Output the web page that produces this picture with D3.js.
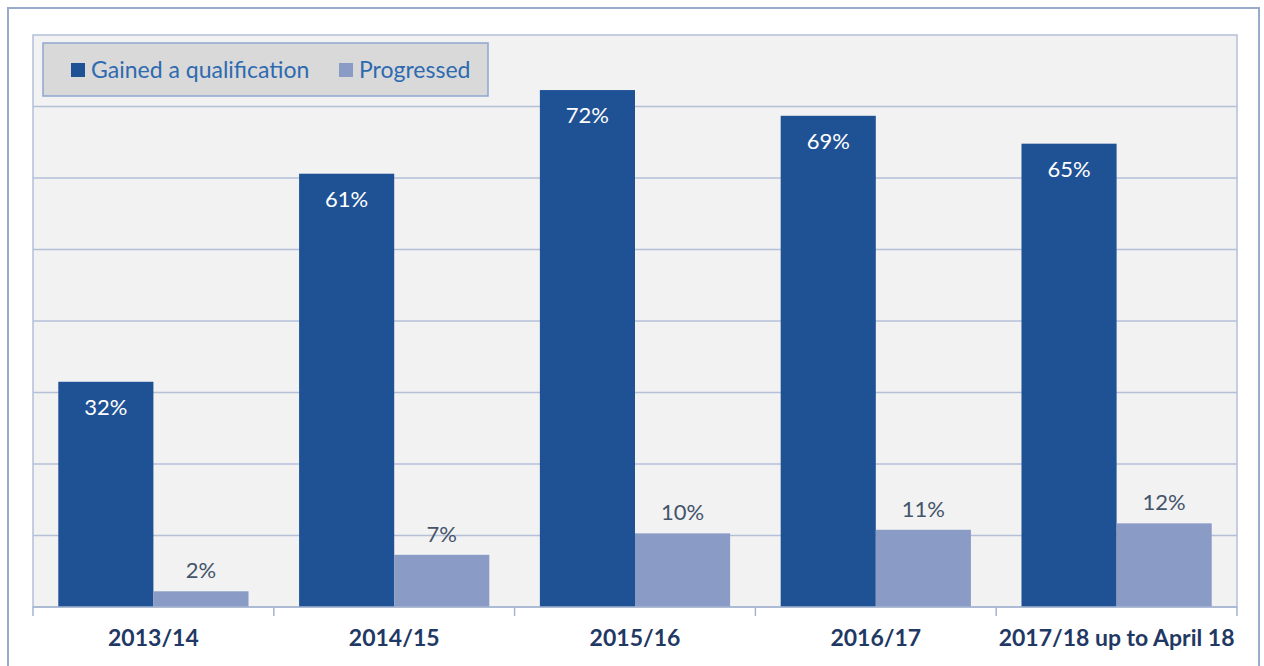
<!DOCTYPE html>
<html>
<head>
<meta charset="utf-8">
<script src="https://cdn.jsdelivr.net/npm/d3@7"></script>
<style>
  body { margin: 0; background: #fff; }
  svg { display: block; font-family: Lato, "Open Sans", sans-serif; }
</style>
</head>
<body>
<div id="chart"></div>
<script>
// data
const years = ["2013/14", "2014/15", "2015/16", "2016/17", "2017/18 up to April 18"];
const gained = [31.5, 60.6, 72.3, 68.7, 64.8];
const progressed = [2.2, 7.3, 10.3, 10.8, 11.7];
const seriesNames = ["Gained a qualification", "Progressed"];
const yTicks = [0, 10, 20, 30, 40, 50, 60, 70, 80];

const W = 1264, H = 666;
const margin = { top: 35, right: 27, bottom: 59, left: 33 };
const width = W - margin.left - margin.right;
const height = H - margin.top - margin.bottom;

const colors = ["#1f5295", "#8a9cc5"];

const svg = d3.select("#chart").append("svg")
    .attr("width", W)
    .attr("height", H);

// outer frame
svg.append("rect")
    .attr("x", 8).attr("y", 8)
    .attr("width", 1251).attr("height", 700)
    .attr("fill", "#fff")
    .attr("stroke", "#9aaacb")
    .attr("stroke-width", 2);

const g = svg.append("g")
    .attr("transform", `translate(${margin.left}, ${margin.top})`);

// plot area background
g.append("rect")
    .attr("width", width).attr("height", height)
    .attr("fill", "#f2f2f2")
    .attr("stroke", "#b4c0d8")
    .attr("stroke-width", 1.5);

const x = d3.scaleBand()
    .domain(years)
    .range([0, width]);

const y = d3.scaleLinear()
    .domain([0, 80])
    .range([height, 0]);

// gridlines
g.append("g")
    .selectAll("line")
    .data(yTicks.slice(1, -1))
    .join("line")
    .attr("x1", 0).attr("x2", width)
    .attr("y1", d => y(d)).attr("y2", d => y(d))
    .attr("stroke", "#b4c0d8")
    .attr("stroke-width", 1.5);

const groupW = x.bandwidth() * 0.79;
const x1 = d3.scaleBand()
    .domain([0, 1])
    .range([(x.bandwidth() - groupW) / 2, (x.bandwidth() + groupW) / 2]);

const rows = years.map((yr, i) => ({ year: yr, vals: [gained[i], progressed[i]] }));

const groups = g.selectAll(".grp")
    .data(rows)
    .join("g")
    .attr("class", "grp")
    .attr("transform", d => `translate(${x(d.year)}, 0)`);

groups.selectAll("rect")
    .data(d => d.vals.map((v, k) => ({ v, k })))
    .join("rect")
    .attr("x", d => x1(d.k))
    .attr("width", x1.bandwidth())
    .attr("y", d => y(d.v))
    .attr("height", d => height - y(d.v))
    .attr("fill", d => colors[d.k]);

// value labels
groups.selectAll("text")
    .data(d => d.vals.map((v, k) => ({ v, k })))
    .join("text")
    .attr("x", d => x1(d.k) + x1.bandwidth() / 2)
    .attr("y", d => d.k === 0 ? y(d.v) + 33 : y(d.v) - 13)
    .attr("text-anchor", "middle")
    .style("font-size", "22px")
    .style("fill", d => d.k === 0 ? "#fff" : "#44546a")
    .text(d => Math.round(d.v) + "%");

// x axis
const xAxisG = g.append("g")
    .attr("transform", `translate(0, ${height})`);

xAxisG.append("line")
    .attr("x1", 0).attr("x2", width)
    .attr("stroke", "#a5b4d0").attr("stroke-width", 1.5);

xAxisG.selectAll(".tick")
    .data(d3.range(years.length + 1))
    .join("line")
    .attr("class", "tick")
    .attr("x1", i => i * x.step()).attr("x2", i => i * x.step())
    .attr("y1", 0).attr("y2", 9)
    .attr("stroke", "#a5b4d0").attr("stroke-width", 1.5);

xAxisG.selectAll(".lbl")
    .data(years)
    .join("text")
    .attr("class", "lbl")
    .attr("x", d => x(d) + x.bandwidth() / 2)
    .attr("y", 39)
    .attr("text-anchor", "middle")
    .style("font-size", "23px")
    .style("font-weight", "bold")
    .style("fill", "#1f3864")
    .text(d => d);

// legend
const legend = svg.append("g")
    .attr("transform", "translate(43, 43)");

legend.append("rect")
    .attr("width", 445).attr("height", 53)
    .attr("fill", "#d9d9d9")
    .attr("stroke", "#8fa5cf")
    .attr("stroke-width", 1.5);

const legX = [28, 296];
seriesNames.forEach((name, k) => {
    legend.append("rect")
        .attr("x", legX[k]).attr("y", 20)
        .attr("width", 14).attr("height", 14)
        .attr("fill", colors[k]);
    legend.append("text")
        .attr("x", legX[k] + 20).attr("y", 35)
        .style("font-size", "23px")
        .style("fill", "#2e6ab0")
        .text(name);
});
</script>
</body>
</html>
